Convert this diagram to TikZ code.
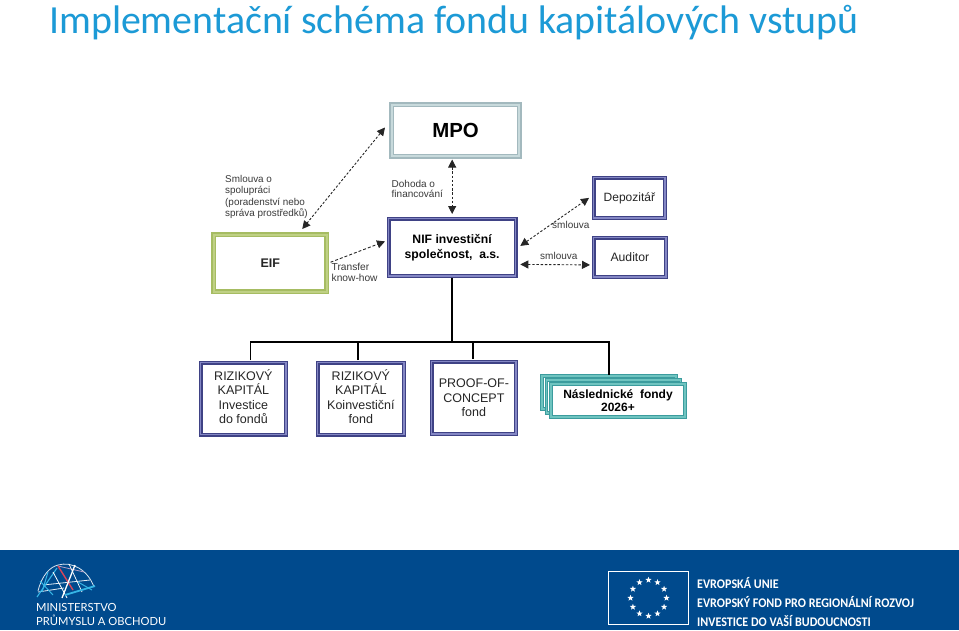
\documentclass[tikz,border=0pt]{standalone}
\usepackage{fontspec}
\setmainfont{Liberation Sans}
\newfontfamily\titlefont{Carlito}
\newfontfamily\footfont[FakeStretch=0.915]{Carlito}
\newfontfamily\minfont{Lato}
\usetikzlibrary{arrows.meta,shapes.geometric}
\definecolor{footblue}{HTML}{004A8D}
\definecolor{titleblue}{HTML}{1C9AD6}
\definecolor{navyb}{HTML}{3F4285}
\definecolor{lavb}{HTML}{8487C4}
\definecolor{greenb}{HTML}{A6BC62}
\definecolor{greenl}{HTML}{BFD084}
\definecolor{mpob}{HTML}{A3B9BE}
\definecolor{mpol}{HTML}{C8DADC}
\definecolor{tealb}{HTML}{3C9C9E}
\definecolor{teall}{HTML}{6FC4C0}
\definecolor{txt}{HTML}{262626}
\definecolor{lbl}{HTML}{3A3A3A}
\definecolor{logocyan}{HTML}{35B5E5}
\definecolor{logored}{HTML}{D8455A}
\definecolor{logopink}{HTML}{B9A0C8}
\tikzset{
  x=1pt,y=-1pt,
  boxbase/.style={fill=white,line width=1.3pt,double distance=1.6pt,inner sep=0pt,align=center,text=txt,anchor=north west},
  navybox/.style={boxbase,draw=navyb,double=lavb},
  greenbox/.style={boxbase,draw=greenb,double=greenl,line width=1.5pt},
  mpobox/.style={boxbase,draw=mpob,double=mpol,line width=1.5pt},
  tealbox/.style={boxbase,draw=tealb,double=teall,line width=1pt,double distance=1.2pt},
  lab/.style={font=\fontsize{9.9}{11.3}\selectfont,text=lbl,align=left,anchor=west,inner sep=0pt},
  rel/.style={draw=black!85,line width=.9pt,dash pattern=on 2.4pt off 1.8pt,{Triangle[length=8pt,width=8pt]}-{Triangle[length=8pt,width=8pt]}},
  oneway/.style={draw=black!85,line width=.9pt,dash pattern=on 3pt off 2pt,-{Triangle[length=8pt,width=8pt]}},
  tree/.style={draw=black,line width=1.4pt},
  foot/.style={font=\footfont\fontsize{13.2}{14}\selectfont\bfseries,text=white,anchor=west,inner sep=0pt},
  minis/.style={font=\minfont\fontsize{11.2}{13}\selectfont,text=white,anchor=west,inner sep=0pt},
  eustar/.style={star,star points=5,star point ratio=2.4,fill=white,inner sep=0pt,minimum size=6.5pt},
  boxtext/.style={font=\fontsize{12.5}{14.5}\selectfont},
}
\begin{document}
\begin{tikzpicture}
\useasboundingbox (0,0) rectangle (959,630);
\fill[white] (0,0) rectangle (959,630);
\fill[footblue] (0,550) rectangle (959,630);
\node[anchor=base west,inner sep=0pt,text=titleblue,font=\titlefont\fontsize{39.85}{42}\selectfont] (title) at (49,33) {Implementační schéma fondu kapitálových vstupů};

% boxes
\node[mpobox,minimum width=127.5pt,minimum height=51.5pt,text=black,font=\bfseries\fontsize{20.4}{22}\selectfont] (mpo) at (391,104) {MPO};
\node[greenbox,minimum width=113pt,minimum height=57pt,font=\bfseries\fontsize{12.5}{14}\selectfont] (eif) at (213,234) {EIF};
\node[navybox,minimum width=127pt,minimum height=57.5pt,text=black,font=\bfseries\fontsize{12.2}{15}\selectfont] (nif) at (388,218) {NIF investiční\\společnost,\ \ a.s.};
\node[navybox,minimum width=71.5pt,minimum height=40.5pt,font=\fontsize{12}{13}\selectfont] (dep) at (593,177) {Depozitář};
\node[navybox,minimum width=72.5pt,minimum height=39.5pt,font=\fontsize{12.2}{13}\selectfont] (aud) at (593,237) {Auditor};
\node[navybox,boxtext,minimum width=85.5pt,minimum height=72pt] (r1) at (200,362) {RIZIKOVÝ\\KAPITÁL\\Investice\\do fondů\\[-10.5pt]};
\node[navybox,boxtext,minimum width=86.5pt,minimum height=72pt] (r2) at (317,362) {RIZIKOVÝ\\KAPITÁL\\Koinvestiční\\fond\\[-10.5pt]};
\node[navybox,boxtext,minimum width=84.5pt,minimum height=72.5pt] (poc) at (431,361) {PROOF-OF-\\CONCEPT\\fond};
\node[tealbox,minimum width=134pt,minimum height=33pt] (nf3) at (541.5,375.5) {};
\node[tealbox,minimum width=134pt,minimum height=33pt] (nf2) at (546,379.5) {};
\node[tealbox,minimum width=134pt,minimum height=33pt,text=black,font=\bfseries\fontsize{12}{13.5}\selectfont] (nf1) at (550.5,383.5) {Následnické\ \ fondy\\2026+};

% labels
\node[lab] (l1) at (225,197) {Smlouva o\\spolupráci\\(poradenství nebo\\správa prostředků)};
\node[lab,font=\fontsize{10}{10.5}\selectfont] (l2) at (391.5,189) {Dohoda o\\financování};
\node[lab,font=\fontsize{10.2}{11}\selectfont] (l3) at (331.5,272.5) {Transfer\\know-how};
\node[lab,font=\fontsize{10}{12}\selectfont] (l4) at (552,225) {smlouva};
\node[lab,font=\fontsize{10}{12}\selectfont] (l5) at (540,256) {smlouva};

% dashed connectors
\draw[rel] ([shift={(-6,-3)}]mpo.west) -- ([shift={(32,-5)}]eif.north);
\draw[rel] ([shift={(0,2.5)}]mpo.south -| nif.north) -- ([shift={(0,-4)}]nif.north);
\draw[oneway] ([shift={(3,-1)}]eif.east) -- ([shift={(-3,-6)}]nif.west);
\draw[rel] ([shift={(4,-1.5)}]nif.east) -- ([shift={(-4,0)}]dep.west);
\draw[rel] ([shift={(4,17)}]nif.east) -- ([shift={(-3,7.5)}]aud.west);

% tree
\coordinate (fork) at ([shift={(0,65)}]nif.south);
\draw[tree,line width=1.8pt] ([shift={(0,1)}]nif.south) -- (fork);
\draw[tree,line width=1.4pt] ([shift={(7,-2)}]r1.north) |- (fork);
\draw[tree,line width=1.5pt] (fork) -| ([shift={(0,-1)}]nf3.north);
\draw[tree,line width=1.6pt] ([shift={(-3,-2)}]r2.north) -- ([xshift=-3pt]r2.north |- fork);
\draw[tree,line width=1.8pt] ([shift={(-1,-2)}]poc.north) -- ([xshift=-1pt]poc.north |- fork);

% footer: ministry
\draw[white!85!footblue,line width=.8pt] (38,591) .. controls (42,575) and (50,567) .. (58,565) .. controls (72,561) and (88,570) .. (94,587);
\draw[logopink,line width=.8pt] (58,566) -- (84,572);
\draw[white!90!footblue,line width=.8pt] (43,585) -- (90,580);
\draw[white!90!footblue,line width=.8pt] (38,592) -- (64,588);
\draw[logocyan,line width=1.1pt] (37,597) -- (57,568);
\draw[logocyan,line width=1pt] (40,581) -- (53,595);
\draw[logocyan,line width=1pt] (42,592) -- (48,572);
\draw[white,line width=.8pt] (53,572) -- (67,598);
\draw[logored,line width=1.4pt] (58,566) -- (73,590);
\draw[white,line width=1.3pt] (75,565) -- (62,598);
\draw[white,line width=.7pt] (69,564) -- (82,592);
\draw[logocyan,line width=1.8pt] (65,595) -- (95,586);
\draw[logocyan,line width=1pt] (78,582) -- (92,590);
\node[minis] (m1) at (36,607) {MINISTERSTVO};
\node[minis] (m2) at (36,620) {PRŮMYSLU A OBCHODU};

% footer: EU
\draw[white,line width=1pt] (608.5,571.5) rectangle (688.5,624.5);
\foreach \i in {1,...,12}{
  \node[eustar] (st\i) at ({648.5+18*cos(30*\i)},{598-18*sin(30*\i)}) {};
}
\node[foot] (f1) at (697,583) {EVROPSKÁ UNIE};
\node[foot] (f2) at (697,601.5) {EVROPSKÝ FOND PRO REGIONÁLNÍ ROZVOJ};
\node[foot] (f3) at (697,620.5) {INVESTICE DO VAŠÍ BUDOUCNOSTI};
\end{tikzpicture}
\end{document}
